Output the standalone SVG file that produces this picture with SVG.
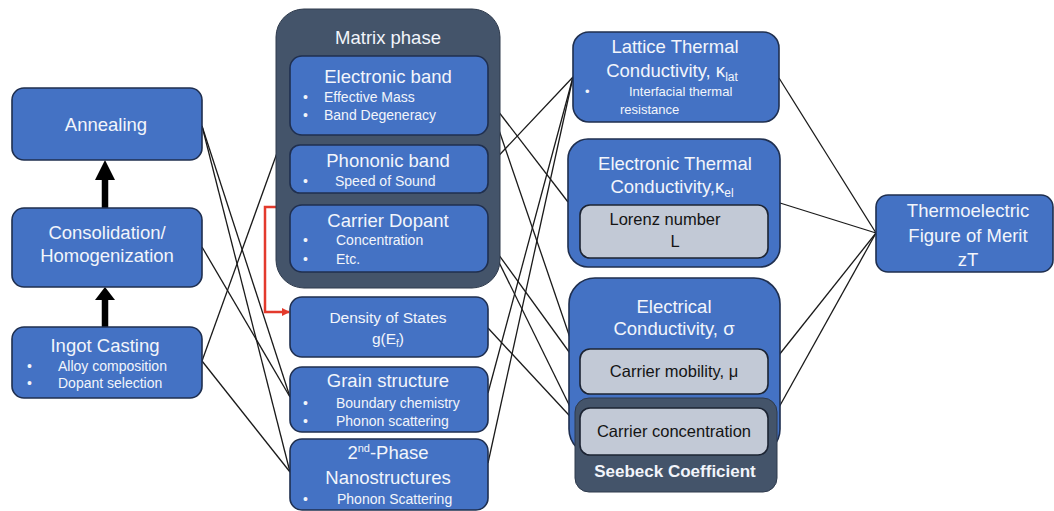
<svg xmlns="http://www.w3.org/2000/svg" width="1054" height="511" viewBox="0 0 1054 511">
<style>
.b{fill:#4472c4;stroke:#1f2f4f;stroke-width:1.6}
.d{fill:#44546a;stroke:#2e3a4c;stroke-width:1}
.g{fill:#c2c9d6;stroke:#1c2433;stroke-width:1.6}
text{font-family:"Liberation Sans",Arial,sans-serif}
.h{fill:#f2f5fb;font-size:18.5px;text-anchor:middle}
.s{fill:#f2f5fb;font-size:14px}
.k{fill:#141414;font-size:16.5px;text-anchor:middle}
.ln{stroke:#1a1a1a;stroke-width:1.3;fill:none}
</style>
<defs>
<marker id="ra" markerWidth="8" markerHeight="8" refX="7" refY="4" orient="auto" markerUnits="userSpaceOnUse"><path d="M0,0 L8,4 L0,8 z" fill="#e33a2c"/></marker>
</defs>
<rect width="1054" height="511" fill="#ffffff"/>

<g id="connectors">
<line class="ln" x1="202" y1="126" x2="290" y2="397"/>
<line class="ln" x1="202" y1="126" x2="290" y2="472"/>
<line class="ln" x1="202" y1="247" x2="290" y2="397"/>
<line class="ln" x1="202" y1="361" x2="277" y2="153"/>
<line class="ln" x1="202" y1="361" x2="290" y2="472"/>
<line class="ln" x1="488" y1="98" x2="568" y2="202"/>
<line class="ln" x1="488" y1="98" x2="580" y2="367"/>
<line class="ln" x1="488" y1="167" x2="573" y2="77"/>
<line class="ln" x1="488" y1="240" x2="580" y2="367"/>
<line class="ln" x1="488" y1="240" x2="580" y2="427"/>
<line class="ln" x1="488" y1="328" x2="580" y2="427"/>
<line class="ln" x1="488" y1="393" x2="573" y2="77"/>
<line class="ln" x1="488" y1="463" x2="573" y2="77"/>
<line class="ln" x1="779" y1="78" x2="876" y2="233"/>
<line class="ln" x1="780" y1="203" x2="876" y2="233"/>
<line class="ln" x1="779" y1="355" x2="876" y2="233"/>
<line class="ln" x1="768" y1="427" x2="876" y2="233"/>
<path d="M277,207 H265 V312 H289" fill="none" stroke="#e33a2c" stroke-width="2.5" marker-end="url(#ra)"/>
<path d="M105,208 V178" stroke="#000" stroke-width="6.5" fill="none"/>
<path d="M95,180 L105,160 L115,180 z" fill="#000"/>
<path d="M105,327 V298" stroke="#000" stroke-width="6.5" fill="none"/>
<path d="M95,300 L105,287 L115,300 z" fill="#000"/>
</g>

<g id="annealing">
<rect class="b" x="12" y="88" width="190" height="72" rx="12"/>
<text class="h" x="106" y="131">Annealing</text>
</g>
<g id="consolidation">
<rect class="b" x="12" y="208" width="190" height="79" rx="12"/>
<text class="h" x="107" y="239">Consolidation/</text>
<text class="h" x="107" y="262">Homogenization</text>
</g>
<g id="ingot">
<rect class="b" x="12" y="327" width="190" height="71" rx="12"/>
<text class="h" x="105" y="352">Ingot Casting</text>
<text class="s" x="27" y="371">•</text>
<text class="s" x="58" y="371">Alloy composition</text>
<text class="s" x="27" y="388">•</text>
<text class="s" x="58" y="388">Dopant selection</text>
</g>

<g id="matrix">
<rect class="d" x="276" y="9" width="224" height="279" rx="28"/>
<text class="h" x="388" y="44">Matrix phase</text>
</g>
<g id="electronic-band">
<rect class="b" x="290" y="56" width="198" height="79" rx="12"/>
<text class="h" x="388" y="83">Electronic band</text>
<text class="s" x="303" y="102">•</text>
<text class="s" x="324" y="102">Effective Mass</text>
<text class="s" x="303" y="120">•</text>
<text class="s" x="324" y="120">Band Degeneracy</text>
</g>
<g id="phononic-band">
<rect class="b" x="290" y="145" width="198" height="48" rx="10"/>
<text class="h" x="388" y="167">Phononic band</text>
<text class="s" x="303" y="186">•</text>
<text class="s" x="335" y="186">Speed of Sound</text>
</g>
<g id="carrier-dopant">
<rect class="b" x="290" y="205" width="198" height="67" rx="12"/>
<text class="h" x="388" y="227">Carrier Dopant</text>
<text class="s" x="303" y="245">•</text>
<text class="s" x="336" y="245">Concentration</text>
<text class="s" x="303" y="264">•</text>
<text class="s" x="336" y="264">Etc.</text>
</g>
<g id="dos">
<rect class="b" x="290" y="297" width="198" height="60" rx="12"/>
<text class="h" x="388" y="323" style="font-size:15.5px">Density of States</text>
<text class="h" x="388" y="344" style="font-size:15.5px">g(E<tspan font-size="10" dy="3">f</tspan><tspan dy="-3">)</tspan></text>
</g>
<g id="grain">
<rect class="b" x="290" y="367" width="198" height="65" rx="12"/>
<text class="h" x="388" y="387">Grain structure</text>
<text class="s" x="303" y="408">•</text>
<text class="s" x="336" y="408">Boundary chemistry</text>
<text class="s" x="303" y="426">•</text>
<text class="s" x="336" y="426">Phonon scattering</text>
</g>
<g id="second-phase">
<rect class="b" x="290" y="439" width="198" height="71" rx="12"/>
<text class="h" x="388" y="459">2<tspan font-size="11" dy="-7">nd</tspan><tspan dy="7">-Phase</tspan></text>
<text class="h" x="388" y="484">Nanostructures</text>
<text class="s" x="303" y="504">•</text>
<text class="s" x="337" y="504">Phonon Scattering</text>
</g>

<g id="lattice">
<rect class="b" x="573" y="32" width="206" height="90" rx="16"/>
<text class="h" x="675" y="53">Lattice Thermal</text>
<text class="h" x="672" y="77">Conductivity, κ<tspan font-size="12" dy="4">lat</tspan></text>
<text class="s" x="585" y="96" style="font-size:13px">•</text>
<text class="s" x="629" y="96" style="font-size:13px">Interfacial thermal</text>
<text class="s" x="620" y="114" style="font-size:13px">resistance</text>
</g>
<g id="electronic-thermal">
<rect class="b" x="568" y="139" width="212" height="128" rx="20"/>
<text class="h" x="675" y="170">Electronic Thermal</text>
<text class="h" x="672" y="193">Conductivity,κ<tspan font-size="12" dy="4">el</tspan></text>
<rect class="g" x="580" y="205" width="188" height="53" rx="10"/>
<text class="k" x="665" y="225">Lorenz number</text>
<text class="k" x="675" y="247">L</text>
</g>
<g id="electrical">
<rect class="b" x="569" y="278" width="211" height="177" rx="26"/>
<text class="h" x="674" y="313">Electrical</text>
<text class="h" x="674" y="335">Conductivity, σ</text>
<rect class="g" x="580" y="349" width="188" height="45" rx="10"/>
<text class="k" x="674" y="377">Carrier mobility, μ</text>
</g>
<g id="seebeck">
<rect class="d" x="575" y="398" width="202" height="94" rx="14"/>
<rect class="g" x="580" y="408" width="188" height="47" rx="10"/>
<text class="k" x="674" y="437">Carrier concentration</text>
<text class="h" x="675" y="477" style="font-size:17px;font-weight:bold">Seebeck Coefficient</text>
</g>
<g id="zt">
<rect class="b" x="876" y="195" width="177" height="77" rx="12"/>
<text class="h" x="968" y="217">Thermoelectric</text>
<text class="h" x="968" y="242">Figure of Merit</text>
<text class="h" x="968" y="266">zT</text>
</g>
</svg>
